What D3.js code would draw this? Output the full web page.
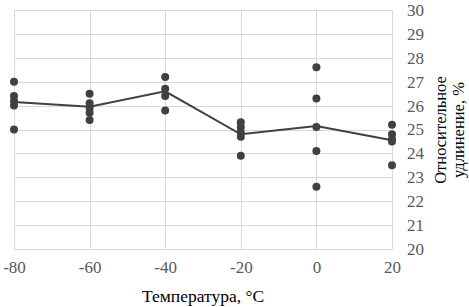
<html>
<head>
<meta charset="utf-8">
<script src="https://d3js.org/d3.v7.min.js"></script>
<style>
  body { margin: 0; background: #fff; }
  text { font-family: "Liberation Serif", "DejaVu Serif", serif; }
</style>
</head>
<body>
<script>
// temperatures and measured elongation at each one
var temps = [-80, -60, -40, -20, 0, 20];
var points80 = [27.0, 26.4, 26.2, 26.0, 25.0];
var points60 = [26.5, 26.1, 25.9, 25.7, 25.4];
var points40 = [27.2, 26.7, 26.4, 25.8];
var points20n = [25.3, 25.1, 24.9, 24.7, 23.9];
var points0 = [27.6, 26.3, 25.1, 24.1, 22.6];
var points20 = [25.2, 24.8, 24.6, 24.5, 23.5];
var meanLine = [26.15, 25.95, 26.6, 24.8, 25.15, 24.55];
var yTicks = [20, 21, 22, 23, 24, 25, 26, 27, 28, 29, 30];

var groups = [points80, points60, points40, points20n, points0, points20];

var width = 469, height = 307;
var margin = {top: 10, right: 77, bottom: 58, left: 14};

var svg = d3.select("body").append("svg")
    .attr("width", width)
    .attr("height", height);

var x = d3.scaleLinear()
    .domain([-80, 20])
    .range([margin.left, width - margin.right]);
var y = d3.scaleLinear()
    .domain([20, 30])
    .range([height - margin.bottom, margin.top]);

var grid = svg.append("g").attr("stroke", "#d9d9d9").attr("stroke-width", 1);
grid.selectAll("line.h").data(yTicks).enter().append("line")
    .attr("class", "h")
    .attr("x1", x(-80)).attr("x2", x(20))
    .attr("y1", d => Math.round(y(d)) + 0.5)
    .attr("y2", d => Math.round(y(d)) + 0.5);
grid.selectAll("line.v").data(temps).enter().append("line")
    .attr("class", "v")
    .attr("y1", y(20)).attr("y2", y(30))
    .attr("x1", d => Math.round(x(d)) + 0.5)
    .attr("x2", d => Math.round(x(d)) + 0.5);

// y axis on the right
var yAxis = d3.axisRight(y).tickValues(yTicks).tickSize(0).tickPadding(15);
svg.append("g")
    .attr("transform", "translate(" + x(20) + ",0)")
    .call(yAxis)
    .call(g => g.select(".domain").remove())
    .call(g => g.selectAll("text")
        .attr("fill", "#595959")
        .style("font-size", "17px")
        .style("font-family", "Liberation Serif"));

var xAxis = d3.axisBottom(x).tickValues(temps).tickSize(0).tickPadding(12)
    .tickFormat(d => String(d));
svg.append("g")
    .attr("transform", "translate(0," + y(20) + ")")
    .call(xAxis)
    .call(g => g.select(".domain").remove())
    .call(g => g.selectAll("text")
        .attr("fill", "#595959")
        .style("font-size", "17px")
        .style("font-family", "Liberation Serif"));

// mean line
var line = d3.line()
    .x((d, i) => x(temps[i]))
    .y(d => y(d));
svg.append("path")
    .datum(meanLine)
    .attr("d", line)
    .attr("fill", "none")
    .attr("stroke", "#404040")
    .attr("stroke-width", 2);

// points
var flat = [];
groups.forEach(function(arr, i) {
    arr.forEach(function(v) { flat.push({t: temps[i], v: v}); });
});
svg.append("g").selectAll("circle").data(flat).enter().append("circle")
    .attr("cx", d => x(d.t))
    .attr("cy", d => y(d.v))
    .attr("r", 4)
    .attr("fill", "#404040");

// titles
svg.append("text")
    .attr("x", (x(-80) + x(20)) / 2)
    .attr("y", 302)
    .attr("text-anchor", "middle")
    .attr("fill", "#000")
    .style("font-size", "17.5px")
    .text("Температура, °C");

var yt = svg.append("text")
    .attr("transform", "translate(446," + 130 + ") rotate(-90)")
    .attr("text-anchor", "middle")
    .attr("fill", "#000")
    .style("font-size", "16.5px");
yt.append("tspan").attr("x", 0).attr("dy", 0).text("Относительное");
yt.append("tspan").attr("x", 0).attr("dy", 18).text("удлинение, %");
</script>
</body>
</html>
